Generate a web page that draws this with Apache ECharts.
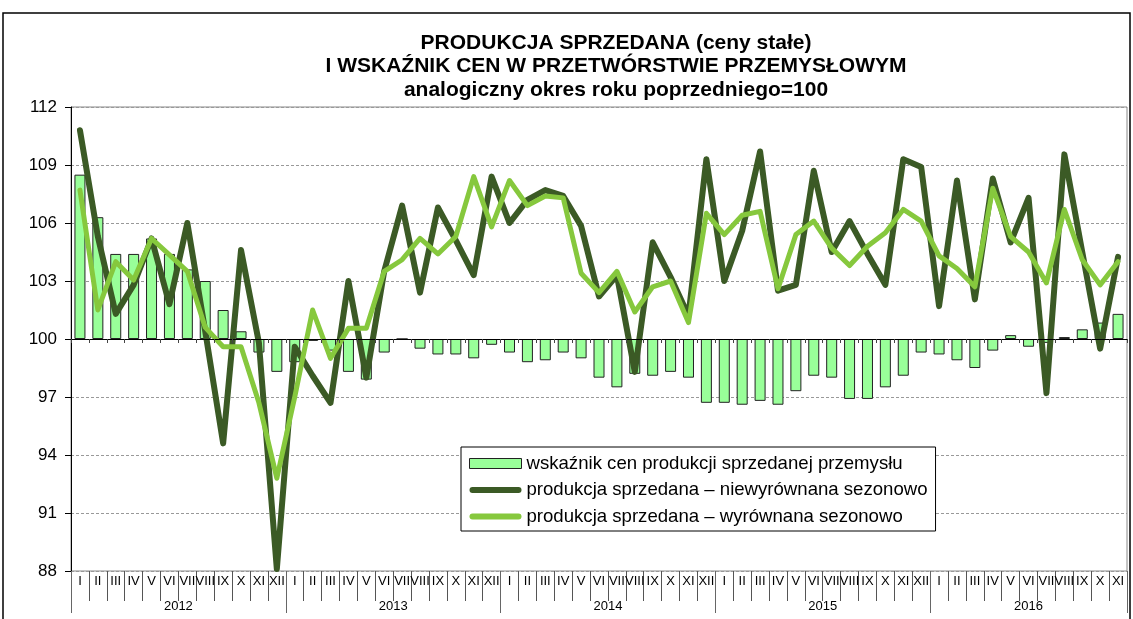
<!DOCTYPE html>
<html>
<head>
<meta charset="utf-8">
<script src="https://cdn.jsdelivr.net/npm/echarts@6/dist/echarts.min.js"></script>
<style>
html,body{margin:0;padding:0;background:#fff;}
#chart{width:1133px;height:619px;}
</style>
</head>
<body>
<div id="chart"></div>
<script>
const years = ['2012', '2013', '2014', '2015', '2016'];
const monthNames = ['I','II','III','IV','V','VI','VII','VIII','IX','X','XI','XII'];
const monthsPerYear = [12, 12, 12, 12, 11];

// wskaźnik cen produkcji sprzedanej przemysłu (analogiczny okres roku poprzedniego = 100)
const priceIndex = [
  108.5, 106.3, 104.4, 104.4, 105.2, 104.4, 103.6, 103.0, 101.5, 100.4, 99.3, 98.3,
  98.8, 99.9, 99.4, 98.3, 97.9, 99.3, 100.0, 99.5, 99.2, 99.2, 99.0, 99.7,
  99.3, 98.8, 98.9, 99.3, 99.0, 98.0, 97.5, 98.2, 98.1, 98.3, 98.0, 96.7,
  96.7, 96.6, 96.8, 96.6, 97.3, 98.1, 98.0, 96.9, 96.9, 97.5, 98.1, 99.3,
  99.2, 98.9, 98.5, 99.4, 100.2, 99.6, 99.8, 100.1, 100.5, 100.85, 101.3
];
// produkcja sprzedana – niewyrównana sezonowo
const prodUnadjusted = [
  110.8, 105.3, 101.3, 102.8, 105.2, 101.8, 106.0, 100.4, 94.6, 104.6, 99.8, 88.1,
  99.6, 98.1, 96.7, 103.0, 98.0, 103.5, 106.9, 102.4, 106.8, 105.1, 103.3, 108.4,
  106.0, 107.2, 107.7, 107.4, 105.85, 102.2, 103.3, 98.3, 105.0, 103.2, 101.2, 109.3,
  103.0, 105.6, 109.7, 102.5, 102.8, 108.7, 104.5, 106.1, 104.4, 102.8, 109.3, 108.9,
  101.7, 108.2, 102.05, 108.3, 105.0, 107.3, 97.2, 109.55, 104.5, 99.5, 104.25
];
// produkcja sprzedana – wyrównana sezonowo
const prodAdjusted = [
  107.7, 101.5, 104.0, 103.05, 105.2, 104.35, 103.5, 100.6, 99.6, 99.6, 96.7, 92.8,
  97.0, 101.5, 99.0, 100.55, 100.55, 103.5, 104.1, 105.2, 104.4, 105.3, 108.4, 105.8,
  108.2, 106.9, 107.4, 107.3, 103.4, 102.4, 103.5, 101.4, 102.7, 103.0, 100.85, 106.5,
  105.4, 106.4, 106.6, 102.6, 105.4, 106.1, 104.7, 103.8, 104.8, 105.5, 106.7, 106.1,
  104.3, 103.65, 102.7, 107.8, 105.3, 104.5, 102.9, 106.7, 104.1, 102.8, 104.0
];
const yTicks = [88, 91, 94, 97, 100, 103, 106, 109, 112];
const baseValue = 100;

const names = [
  'wskaźnik cen produkcji sprzedanej przemysłu',
  'produkcja sprzedana – niewyrównana sezonowo',
  'produkcja sprzedana – wyrównana sezonowo'
];
const titleText = 'PRODUKCJA SPRZEDANA (ceny stałe)\nI WSKAŹNIK CEN W PRZETWÓRSTWIE PRZEMYSŁOWYM\nanalogiczny okres roku poprzedniego=100';

// build categories
const categories = [];
monthsPerYear.forEach((n) => { for (let i = 0; i < n; i++) categories.push(monthNames[i]); });
const total = categories.length;
const yearBounds = [0];
let acc = 0;
monthsPerYear.forEach((n) => { acc += n; yearBounds.push(acc); });
const yearCenters = monthsPerYear.map((n, i) => yearBounds[i] + n / 2);

const rel = (arr) => arr.map((v) => +(v - baseValue).toFixed(3));
const FONT = '"Liberation Sans", Arial, sans-serif';
const DARK = '#3b5a25';
const LIGHT = '#86c83d';
const LINE_ICON = 'path://M3,2 L49,2 A3,3 0 0 1 49,8 L3,8 A3,3 0 0 1 3,2 Z';

const chart = echarts.init(document.getElementById('chart'), null, { renderer: 'canvas' });
chart.setOption({
  animation: false,
  backgroundColor: '#fff',
  textStyle: { fontFamily: FONT },
  graphic: [
    {
      type: 'rect',
      shape: { x: 3, y: 13, width: 1127, height: 700 },
      style: { fill: 'none', stroke: '#000', lineWidth: 1.5 },
      silent: true
    },
    {
      type: 'text',
      x: 616,
      y: 31,
      silent: true,
      style: {
        text: titleText,
        fill: '#000',
        font: 'bold 21px ' + FONT,
        lineHeight: 23.5,
        align: 'center',
        verticalAlign: 'top'
      }
    }
  ],
  legend: {
    orient: 'vertical',
    left: 461,
    top: 447,
    padding: [7, 8, 5, 8],
    itemGap: 7.5,
    itemWidth: 52,
    itemHeight: 10,
    backgroundColor: '#fff',
    borderColor: '#000',
    borderWidth: 1,
    textStyle: { fontFamily: FONT, fontSize: 18.6, color: '#000' },
    data: [
      { name: names[0], icon: 'rect', itemStyle: { color: '#99ff99', borderColor: '#222', borderWidth: 1 } },
      { name: names[1], icon: LINE_ICON, itemStyle: { color: DARK, borderWidth: 0 } },
      { name: names[2], icon: LINE_ICON, itemStyle: { color: LIGHT, borderWidth: 0 } }
    ]
  },
  grid: {
    left: 71, right: 6, top: 107, bottom: 48,
    show: true, borderColor: '#888', borderWidth: 1
  },
  yAxis: {
    type: 'value',
    min: yTicks[0] - baseValue,
    max: yTicks[yTicks.length - 1] - baseValue,
    interval: yTicks[1] - yTicks[0],
    axisLine: { show: true, lineStyle: { color: '#000', width: 1 } },
    axisTick: { show: true, length: 6, lineStyle: { color: '#000' } },
    axisLabel: {
      formatter: (v) => String(Math.round(v + baseValue)),
      fontFamily: FONT, fontSize: 17, color: '#000', margin: 14
    },
    splitLine: { show: true, lineStyle: { color: '#999', type: [3, 2], width: 1 } }
  },
  xAxis: [
    {
      type: 'category',
      data: categories,
      position: 'bottom',
      axisLine: { show: true, onZero: true, lineStyle: { color: '#000', width: 1.2 } },
      axisTick: { show: true, length: 4, interval: 0, lineStyle: { color: '#444' } },
      axisLabel: { show: false },
      splitLine: { show: false },
      z: 5
    },
    {
      type: 'category',
      data: categories,
      position: 'bottom',
      axisLine: { show: false, onZero: false },
      axisTick: { show: true, length: 30, interval: 0, lineStyle: { color: '#555' } },
      axisLabel: { show: true, interval: 0, fontFamily: FONT, fontSize: 13, color: '#000', margin: 4 },
      splitLine: { show: false }
    },
    {
      type: 'value',
      min: 0,
      max: total,
      position: 'bottom',
      axisLine: { show: false, onZero: false },
      axisTick: { show: true, length: 42, customValues: yearBounds, lineStyle: { color: '#666' } },
      axisLabel: {
        show: true,
        customValues: yearCenters,
        formatter: (v) => years[yearCenters.indexOf(v)] || '',
        fontFamily: FONT, fontSize: 13, color: '#000', margin: 29
      },
      splitLine: { show: false }
    }
  ],
  series: [
    {
      name: names[0],
      type: 'bar',
      xAxisIndex: 0,
      data: rel(priceIndex),
      barWidth: 11,
      itemStyle: { color: '#99ff99', borderColor: '#222', borderWidth: 1 }
    },
    {
      name: names[1],
      type: 'line',
      xAxisIndex: 0,
      data: rel(prodUnadjusted),
      symbol: 'none',
      lineStyle: { color: DARK, width: 6, join: 'round', cap: 'round' },
      itemStyle: { color: DARK },
      z: 3
    },
    {
      name: names[2],
      type: 'line',
      xAxisIndex: 0,
      data: rel(prodAdjusted),
      symbol: 'none',
      lineStyle: { color: LIGHT, width: 5, join: 'round', cap: 'round' },
      itemStyle: { color: LIGHT },
      z: 4
    }
  ]
});
</script>
</body>
</html>
